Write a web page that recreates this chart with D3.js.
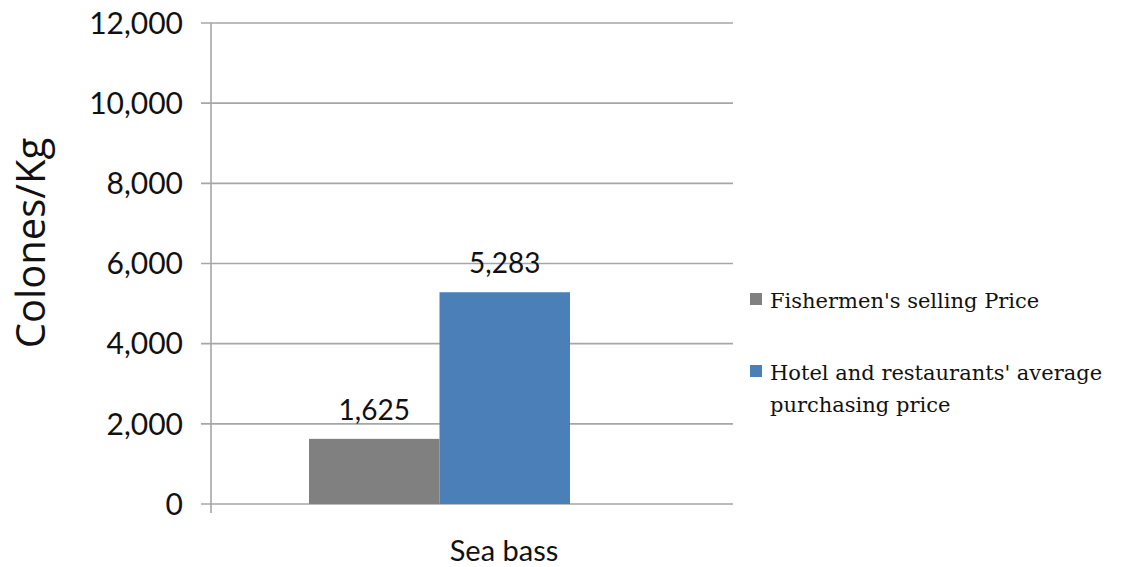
<!DOCTYPE html>
<html>
<head>
<meta charset="utf-8">
<script src="https://cdn.jsdelivr.net/npm/d3@7"></script>
<style>
  body { margin: 0; background: #fff; }
  .tick text { font-family: Lato, "Open Sans", sans-serif; }
</style>
</head>
<body>
<script>
var width = 1133;
var height = 567;

// data
var categories = ["Sea bass"];
var seriesNames = ["Fishermen's selling Price", "Hotel and restaurants' average purchasing price"];
var seriesValues = [1625, 5283];
var seriesColors = ["#808080", "#4a7fb7"];
var yTicks = [0, 2000, 4000, 6000, 8000, 10000, 12000];

var plot = {left: 211, right: 733, top: 23, bottom: 504};

var x = d3.scaleBand().domain(categories).range([plot.left, plot.right]);
var y = d3.scaleLinear().domain([0, 12000]).range([plot.bottom, plot.top]);
// bars sit a bit left of the band centre in the original
var inner = d3.scaleBand().domain(seriesNames).range([309, 570]);

var svg = d3.select("body").append("svg")
    .attr("width", width)
    .attr("height", height);

// gridlines
svg.append("g")
  .selectAll("line")
  .data(yTicks)
  .enter()
  .append("line")
  .attr("x1", plot.left - 10)
  .attr("x2", plot.right)
  .attr("y1", function(d) { return y(d); })
  .attr("y2", function(d) { return y(d); })
  .attr("stroke", "#a6a6a6")
  .attr("stroke-width", 1.6);

// y axis
var yAxis = svg.append("g")
  .attr("transform", "translate(" + plot.left + ",0)")
  .call(d3.axisLeft(y).tickValues(yTicks).tickFormat(d3.format(",")).tickSize(10).tickPadding(18));
yAxis.select(".domain").remove();
yAxis.selectAll(".tick line").remove();
yAxis.selectAll(".tick text")
  .attr("font-size", 30)
  .attr("dy", "0.34em")
  .attr("fill", "#111");

// y axis line
svg.append("line")
  .attr("x1", plot.left).attr("x2", plot.left)
  .attr("y1", plot.top).attr("y2", plot.bottom + 9)
  .attr("stroke", "#a6a6a6").attr("stroke-width", 1.6);

// bars
svg.append("g")
  .selectAll("rect")
  .data(seriesValues)
  .enter()
  .append("rect")
  .attr("x", function(d, i) { return inner(seriesNames[i]); })
  .attr("width", inner.bandwidth())
  .attr("y", function(d) { return y(d); })
  .attr("height", function(d) { return y(0) - y(d); })
  .attr("fill", function(d, i) { return seriesColors[i]; });

// value labels
svg.append("g")
  .selectAll("text")
  .data(seriesValues)
  .enter()
  .append("text")
  .attr("x", function(d, i) { return inner(seriesNames[i]) + inner.bandwidth() / 2; })
  .attr("y", function(d) { return y(d) - 19; })
  .attr("text-anchor", "middle")
  .attr("font-family", "Lato, 'Open Sans', sans-serif")
  .attr("font-size", 28)
  .attr("fill", "#111")
  .text(d3.format(","));

// category label
svg.append("text")
  .attr("x", x("Sea bass") + x.bandwidth() / 2 + 32)
  .attr("y", 561)
  .attr("text-anchor", "middle")
  .attr("font-family", "Lato, 'Open Sans', sans-serif")
  .attr("font-size", 29)
  .attr("fill", "#111")
  .text(categories[0]);

// y title
svg.append("text")
  .attr("transform", "translate(45,243) rotate(-90)")
  .attr("text-anchor", "middle")
  .attr("font-family", "'Open Sans', sans-serif")
  .attr("font-size", 40)
  .attr("fill", "#111")
  .text("Colones/Kg");

// legend
var legendY = [308, 380];
var legendLines = [["Fishermen's selling Price"], ["Hotel and restaurants' average", "purchasing price"]];
var lg = svg.append("g");
seriesNames.forEach(function(name, i) {
  lg.append("rect")
    .attr("x", 750).attr("y", legendY[i] - 15)
    .attr("width", 12).attr("height", 12)
    .attr("fill", seriesColors[i]);
  legendLines[i].forEach(function(t, j) {
    lg.append("text")
      .attr("x", 770)
      .attr("y", legendY[i] + j * 32)
      .attr("font-family", "'DejaVu Serif', serif")
      .attr("font-size", 21)
      .attr("fill", "#111")
      .text(t);
  });
});
</script>
</body>
</html>
